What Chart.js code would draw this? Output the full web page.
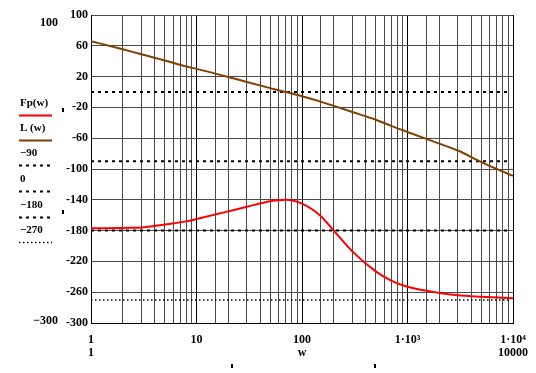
<!DOCTYPE html>
<html>
<head>
<meta charset="utf-8">
<script src="https://cdn.jsdelivr.net/npm/chart.js@4/dist/chart.umd.min.js"></script>
<style>
  html, body { margin: 0; padding: 0; background: #fff; }
  #plot { display: block; }
</style>
</head>
<body>
<canvas id="plot" width="536" height="373"></canvas>
<script>
// frequency samples (w) and the two curves
const wVals = [1, 2, 3, 5, 8, 10, 20, 30, 50, 70, 100, 150, 200, 300, 500, 700, 1000, 2000, 3000, 5000, 10000];
const fpVals = [-177, -176.5, -176, -172, -168, -165, -155, -149, -142, -140, -145, -161, -180, -207, -233, -245, -253, -261, -264, -266, -268];
const lVals = [66, 55.5, 49, 41, 33, 30, 19.5, 13, 5, 0, -5.5, -12.5, -18, -26, -36, -44, -52, -67, -76, -91, -109];

// horizontal reference lines
const refLevels = [-90, 0, -180, -270];
const refSpan = [1, 9300];

// axis ticks
const yMin = -300, yMax = 100, yStep = 40;
const xMin = 1, xMax = 10000;
const xLabels = { 1: ['1', '1'], 10: ['10'], 100: ['100', 'w'], 1000: ['1\u00b710\u00b3'], 10000: ['1\u00b710\u2074', '10000'] };

const FONT = '"Liberation Serif", "DejaVu Serif", serif';

function pairs(xs, ys) {
    return xs.map((x, i) => ({ x: x, y: ys[i] }));
}

const refStyles = {
    '-90': { dash: [3, 4], width: 2 },
    '0': { dash: [3, 4], width: 2 },
    '-180': { dash: [3, 4], width: 2 },
    '-270': { dash: [1.5, 2.5], width: 1.5 }
};

const datasets = [
    {
        label: 'Fp(w)',
        data: pairs(wVals, fpVals),
        borderColor: '#ff0000',
        borderWidth: 2,
        pointRadius: 0,
        cubicInterpolationMode: 'monotone'
    },
    {
        label: 'L (w)',
        data: pairs(wVals, lVals),
        borderColor: '#804000',
        borderWidth: 2,
        pointRadius: 0,
        cubicInterpolationMode: 'monotone'
    }
];

refLevels.forEach(v => {
    const st = refStyles[String(v)];
    datasets.push({
        label: v < 0 ? '\u2212' + Math.abs(v) : String(v),
        data: pairs(refSpan, refSpan.map(() => v)),
        borderColor: '#000',
        borderWidth: st.width,
        borderDash: st.dash,
        pointRadius: 0,
        tension: 0
    });
});

// left-hand legend in the Mathcad style, plus the range labels and marker stubs
const sideLegend = {
    id: 'sideLegend',
    afterDraw(chart) {
        const ctx = chart.ctx;
        ctx.save();
        ctx.font = 'bold 11px ' + FONT;
        ctx.fillStyle = '#000';
        ctx.textBaseline = 'middle';
        ctx.textAlign = 'left';

        const rows = [103, 128, 153, 179, 205, 230];
        chart.data.datasets.forEach((ds, i) => {
            const y = rows[i];
            ctx.fillStyle = '#000';
            ctx.fillText(ds.label, 20, y);
            ctx.beginPath();
            ctx.strokeStyle = ds.borderColor;
            ctx.lineWidth = ds.borderWidth;
            ctx.setLineDash(ds.borderDash || []);
            ctx.moveTo(19, y + 12.5);
            ctx.lineTo(52, y + 12.5);
            ctx.stroke();
        });
        ctx.setLineDash([]);

        ctx.font = 'bold 12px ' + FONT;
        ctx.textAlign = 'right';
        ctx.fillText(String(yMax), 58, 23);
        ctx.fillText('\u2212' + Math.abs(yMin), 58, 321);

        ctx.fillRect(62, 108, 2, 4);
        ctx.fillRect(62, 210, 2, 4);
        ctx.fillRect(231, 364, 2, 4);
        ctx.fillRect(374, 364, 2, 4);
        ctx.restore();
    }
};

function isDecade(v) {
    const l = Math.log10(v);
    return Math.abs(l - Math.round(l)) < 1e-9;
}

new Chart(document.getElementById('plot'), {
    type: 'line',
    data: { datasets: datasets },
    plugins: [sideLegend],
    options: {
        responsive: false,
        animation: false,
        events: [],
        layout: { padding: { top: 15, right: 23, bottom: 0, left: 0 } },
        plugins: {
            legend: { display: false },
            tooltip: { enabled: false }
        },
        scales: {
            x: {
                type: 'logarithmic',
                min: xMin,
                max: xMax,
                border: { color: '#000', width: 1 },
                grid: {
                    drawTicks: false,
                    color: ctx => (ctx.tick && isDecade(ctx.tick.value)) ? '#000' : '#4a4a4a',
                    lineWidth: 1
                },
                ticks: {
                    autoSkip: false,
                    maxRotation: 0,
                    padding: 10,
                    color: '#000',
                    font: { family: FONT, size: 12, weight: 'bold', lineHeight: 1.1 },
                    callback: v => xLabels[v] || ''
                },
                afterFit: s => {
                    s.height = 50;
                    s.paddingLeft = 0;
                    s.paddingRight = 0;
                }
            },
            y: {
                min: yMin,
                max: yMax,
                border: { color: '#000', width: 1 },
                grid: { drawTicks: false, color: '#4a4a4a', lineWidth: 1 },
                ticks: {
                    stepSize: yStep,
                    padding: 3,
                    color: '#000',
                    font: { family: FONT, size: 12, weight: 'bold' },
                    callback: v => String(v)
                },
                afterFit: s => {
                    s.width = 91;
                    s.paddingTop = 0;
                    s.paddingBottom = 0;
                }
            }
        }
    }
});
</script>
</body>
</html>
